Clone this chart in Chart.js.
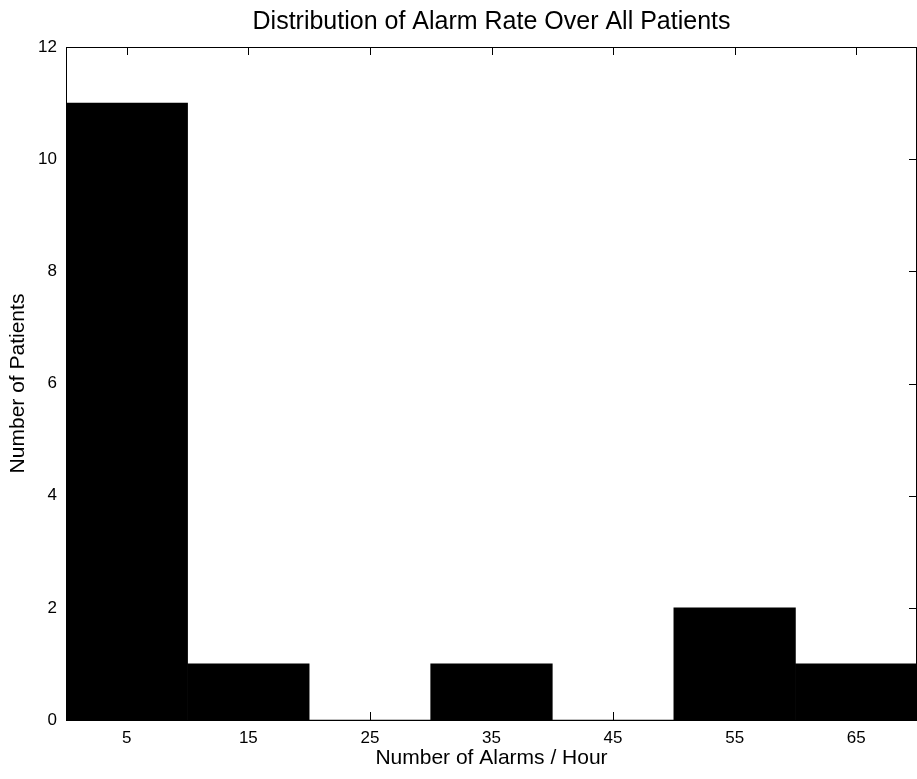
<!DOCTYPE html>
<html>
<head>
<meta charset="utf-8">
<script src="https://cdn.jsdelivr.net/npm/chart.js@4.4.1/dist/chart.umd.min.js"></script>
<style>
  html, body { margin: 0; padding: 0; background: #fff; }
  #wrap { width: 917px; height: 779px; }
</style>
</head>
<body>
<div id="wrap"><canvas id="histChart"></canvas></div>
<script>
// histogram bins (centers) and patient counts
const binCenters = [5, 15, 25, 35, 45, 55, 65];
const patientCounts = [11, 1, 0, 1, 0, 2, 1];
const xTickValues = [5, 15, 25, 35, 45, 55, 65];
const yTickValues = [0, 2, 4, 6, 8, 10, 12];

const FONT = "'Liberation Sans', Arial, sans-serif";

// matlab style box with inward ticks
const boxPlugin = {
    id: 'boxPlugin',
    afterDatasetsDraw(chart) {
        const { ctx, chartArea: a, scales } = chart;
        ctx.save();
        ctx.strokeStyle = '#000';
        ctx.lineWidth = 1;
        ctx.strokeRect(a.left + 0.5, a.top + 0.5, a.right - a.left - 1, a.bottom - a.top);
        ctx.beginPath();
        const len = 8;
        xTickValues.forEach(v => {
            const px = Math.round(scales.x.getPixelForValue(v)) + 0.5;
            ctx.moveTo(px, a.bottom); ctx.lineTo(px, a.bottom - len);
            ctx.moveTo(px, a.top); ctx.lineTo(px, a.top + len);
        });
        yTickValues.forEach(v => {
            const py = Math.round(scales.y.getPixelForValue(v)) + 0.5;
            ctx.moveTo(a.left, py); ctx.lineTo(a.left + len, py);
            ctx.moveTo(a.right, py); ctx.lineTo(a.right - len, py);
        });
        ctx.stroke();
        ctx.restore();
    }
};

const ctx = document.getElementById('histChart').getContext('2d');
const histChart = new Chart(ctx, {
    type: 'bar',
    data: {
        datasets: [{
            label: 'Patients',
            data: binCenters.map((c, i) => ({ x: c, y: patientCounts[i] })),
            backgroundColor: '#000',
            borderColor: '#000',
            borderWidth: 0,
            barPercentage: 1,
            categoryPercentage: 1
        }]
    },
    options: {
        responsive: true,
        maintainAspectRatio: false,
        animation: false,
        layout: { padding: { left: 0, right: 0, top: 0, bottom: 0 } },
        scales: {
            x: {
                type: 'linear',
                min: 0,
                max: 70,
                offset: false,
                grid: { display: false, drawTicks: false },
                border: { display: false },
                afterBuildTicks: scale => { scale.ticks = xTickValues.map(v => ({ value: v })); },
                afterFit: scale => { scale.height = 59; },
                ticks: {
                    color: '#000',
                    padding: 8,
                    maxRotation: 0,
                    font: { family: FONT, size: 17 }
                },
                title: {
                    display: true,
                    text: 'Number of Alarms / Hour',
                    color: '#000',
                    padding: { top: 0, bottom: 8 },
                    font: { family: FONT, size: 21 }
                }
            },
            y: {
                min: 0,
                max: 12,
                grid: { display: false, drawTicks: false },
                border: { display: false },
                afterBuildTicks: scale => { scale.ticks = yTickValues.map(v => ({ value: v })); },
                afterFit: scale => { scale.width = 66; },
                ticks: {
                    color: '#000',
                    padding: 9,
                    font: { family: FONT, size: 17 }
                },
                title: {
                    display: true,
                    text: 'Number of Patients',
                    color: '#000',
                    padding: { top: 6, bottom: 4 },
                    font: { family: FONT, size: 21 }
                }
            }
        },
        plugins: {
            legend: { display: false },
            tooltip: { enabled: false },
            title: {
                display: true,
                fullSize: false,
                text: 'Distribution of Alarm Rate Over All Patients',
                color: '#000',
                padding: { top: 7, bottom: 10 },
                font: { family: FONT, size: 25, weight: 'normal', lineHeight: 1.2 }
            }
        }
    },
    plugins: [boxPlugin]
});
</script>
</body>
</html>
